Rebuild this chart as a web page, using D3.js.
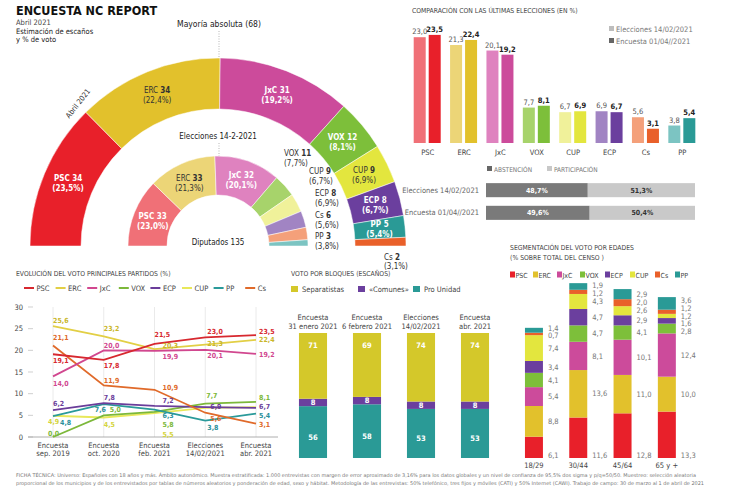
<!DOCTYPE html>
<html><head><meta charset="utf-8">
<script src="https://cdn.jsdelivr.net/npm/d3@7"></script>
<style>
body{margin:0;background:#fff}
svg{display:block;font-family:"Liberation Sans Narrow","DejaVu Sans Condensed","Roboto",sans-serif}
</style></head><body>
<svg id="c" width="742" height="491"></svg>
<script>
// ---------- DATA ----------
const abrParties = ["PSC","ERC","JxC","VOX","CUP","ECP","PP","Cs"];
const abrSeats   = [34,34,31,12,9,8,5,2];
const abrPct     = ["23,5","22,4","19,2","8,1","6,9","6,7","5,4","3,1"];
const elecParties = ["PSC","ERC","JxC","VOX","CUP","ECP","Cs","PP"];
const elecSeats   = [33,33,32,11,9,8,6,3];
const elecPct     = ["23,0","21,3","20,1","7,7","6,7","6,9","5,6","3,8"];

const cmpParties = ["PSC","ERC","JxC","VOX","CUP","ECP","Cs","PP"];
const cmpElecciones = [23.0,21.3,20.1,7.7,6.7,6.9,5.6,3.8];
const cmpEncuesta   = [23.5,22.4,19.2,8.1,6.9,6.7,3.1,5.4];

const turnoutRows = ["Elecciones 14/02/2021","Encuesta 01/04//2021"];
const abstencion = [48.7,49.6];
const participacion = [51.3,50.4];

const periods = [["Encuesta","sep. 2019"],["Encuesta","oct. 2020"],["Encuesta","feb. 2021"],["Elecciones","14/02/2021"],["Encuesta","abr. 2021"]];
const lineParties = ["PSC","ERC","JxC","VOX","ECP","CUP","PP","Cs"];
const evPSC = [19.1,17.8,21.5,23.0,23.5];
const evERC = [25.6,23.2,20.3,21.3,22.4];
const evJxC = [14.0,20.0,19.9,20.1,19.2];
const evVOX = [0.0,5.0,5.8,7.7,8.1];
const evECP = [6.2,7.8,7.2,6.9,6.7];
const evCUP = [4.9,4.5,5.5,6.7,6.9];
const evPP  = [4.8,7.6,6.3,3.8,5.4];
const evCs  = [21.1,11.9,10.9,5.6,3.1];
const yTicks = [0,5,10,15,20,25,30];

const blocCols = [["Encuesta","31 enero 2021"],["Encuesta","6 febrero 2021"],["Elecciones","14/02/2021"],["Encuesta","abr. 2021"]];
const blocSeparatistas = [71,69,74,74];
const blocComunes = [8,8,8,8];
const blocProUnidad = [56,58,53,53];

const ageGroups = ["18/29","30/44","45/64","65 y +"];
const ageParties = ["PSC","ERC","JxC","VOX","ECP","CUP","Cs","PP"];
const agePSC = [6.1,11.6,12.8,13.3];
const ageERC = [8.8,13.6,11.0,10.0];
const ageJxC = [5.4,8.1,10.1,12.4];
const ageVOX = [4.1,4.7,4.1,2.8];
const ageECP = [3.4,4.7,2.9,1.6];
const ageCUP = [7.4,4.3,2.6,1.2];
const ageCs  = [0.7,1.2,2.0,1.2];
const agePP  = [1.4,1.9,2.9,3.6];

// ---------- STYLE ----------
const dark = {PSC:"#e8202a",ERC:"#e2c12c",JxC:"#cc4b9b",VOX:"#7dbf3a",CUP:"#e3e63e",ECP:"#6b3f9e",PP:"#2a9a96",Cs:"#e9602a"};
const light= {PSC:"#f07077",ERC:"#ecd577",JxC:"#df82bf",VOX:"#a7d36b",CUP:"#f0f19a",ECP:"#a184c3",PP:"#7cc4c2",Cs:"#f4a07a"};
const lineCol = {PSC:"#d7282f",ERC:"#e2cf45",JxC:"#d1478f",VOX:"#7cb83a",ECP:"#6a3d9a",CUP:"#e8e85a",PP:"#2a9a9a",Cs:"#e06a2a"};
const lblCol  = {PSC:"#d7282f",ERC:"#c9b62a",JxC:"#d1478f",VOX:"#7cb83a",ECP:"#6a3d9a",CUP:"#d4d43a",PP:"#2a8f9a",Cs:"#e06a2a"};
const TXT = "#333";

const svg = d3.select("#c");

function mixed(g, x, y, parts, o){
  o = o||{};
  const t = g.append("text").attr("x",x).attr("y",y)
    .attr("text-anchor",o.anchor||"start").attr("font-size",o.size||8)
    .attr("fill",o.fill||TXT);
  parts.forEach(p=>t.append("tspan").text(p[0]).attr("font-weight",p[1]?"bold":"normal"));
  return t;
}
function txt(x,y,s,o){
  o=o||{};
  return svg.append("text").attr("x",x).attr("y",y).text(s)
    .attr("text-anchor",o.anchor||"start").attr("font-size",o.size||8)
    .attr("font-weight",o.bold?"bold":"normal").attr("fill",o.fill||TXT);
}

// ---------- HEADER ----------
txt(16,15,"ENCUESTA NC REPORT",{size:12.5,bold:true,fill:"#111"});
txt(16,25,"Abril 2021",{size:7.5,fill:"#444"});
txt(16,34,"Estimación de escaños",{size:7.5,fill:"#222"});
txt(16,42,"y % de voto",{size:7.5,fill:"#222"});

// ---------- HEMICYCLES ----------
const cx=218, cy=246;
const pie = d3.pie().sort(null).startAngle(-Math.PI/2).endAngle(Math.PI/2);
const gOut = svg.append("g").attr("transform",`translate(${cx},${cy})`);
const arcOut = d3.arc().innerRadius(137).outerRadius(188);
const pOut = pie(abrSeats);
gOut.selectAll("path").data(pOut).enter().append("path")
  .attr("d",arcOut).attr("fill",(d,i)=>dark[abrParties[i]]).attr("stroke","#fff").attr("stroke-width",0.5);
const arcIn = d3.arc().innerRadius(51).outerRadius(90);
const pIn = pie(elecSeats);
gOut.selectAll("path.in").data(pIn).enter().append("path").attr("class","in")
  .attr("d",arcIn).attr("fill",(d,i)=>light[elecParties[i]]).attr("stroke","#fff").attr("stroke-width",0.5);

// outer labels inside slices
const outStyle = {PSC:"w",ERC:"d",JxC:"w",VOX:"w",CUP:"d",ECP:"w",PP:"w"};
pOut.forEach((d,i)=>{
  const p = abrParties[i]; if(!outStyle[p]) return;
  const c = arcOut.centroid(d);
  const white = outStyle[p]==="w";
  const f = white?"#fff":TXT;
  mixed(gOut,c[0],c[1]-2,[[p+" ",white],[String(abrSeats[i]),true]],{anchor:"middle",fill:f,size:8});
  mixed(gOut,c[0],c[1]+8,[["("+abrPct[i]+"%)",white]],{anchor:"middle",fill:f,size:8});
});
// Cs outer label outside
{
  const i = abrParties.indexOf("Cs");
  mixed(svg,384,259.5,[["Cs ",false],[String(abrSeats[i]),true]],{size:8});
  mixed(svg,384,269,[["("+abrPct[i]+"%)",false]],{size:8});
}
// inner labels inside
["PSC","ERC","JxC"].forEach(p=>{
  const i = elecParties.indexOf(p);
  const c = arcIn.centroid(pIn[i]);
  const white = p!=="ERC";
  const f = white?"#fff":TXT;
  mixed(gOut,c[0],c[1]-1,[[p+" ",white],[String(elecSeats[i]),true]],{anchor:"middle",fill:f,size:8});
  mixed(gOut,c[0],c[1]+9,[["("+elecPct[i]+"%)",white]],{anchor:"middle",fill:f,size:8});
});
// inner labels outside
const innerOutside = {VOX:[284,156],CUP:[309,174],ECP:[315,196],Cs:[315,218],PP:[315,239]};
Object.keys(innerOutside).forEach(p=>{
  const i = elecParties.indexOf(p); const [x,y]=innerOutside[p];
  mixed(svg,x,y,[[p+" ",false],[String(elecSeats[i]),true]],{size:8});
  mixed(svg,x,y+10,[["("+elecPct[i]+"%)",false]],{size:8});
});
// annotations
txt(cx+1,27,"Mayoría absoluta (68)",{anchor:"middle",size:8.5,fill:"#222"});
svg.append("line").attr("x1",cx+1).attr("x2",cx+1).attr("y1",31).attr("y2",cy-188)
  .attr("stroke","#999").attr("stroke-width",0.7).attr("stroke-dasharray","1,1.5");
txt(cx,139,"Elecciones 14-2-2021",{anchor:"middle",size:8,fill:"#222"});
svg.append("line").attr("x1",cx+1).attr("x2",cx+1).attr("y1",143).attr("y2",cy-90)
  .attr("stroke","#999").attr("stroke-width",0.7).attr("stroke-dasharray","1,1.5");
txt(cx,245,"Diputados 135",{anchor:"middle",size:8,fill:"#222"});
svg.append("text").attr("transform","translate(80,105) rotate(-52)").attr("text-anchor","middle")
  .attr("font-size",7.5).attr("fill","#333").text("Abril 2021");

// ---------- COMPARISON BARS ----------
txt(412,13,"COMPARACIÓN CON LAS ÚLTIMAS ELECCIONES (EN %)",{size:6.8,fill:"#444"});
const cx0 = d3.scaleBand().domain(cmpParties).range([409,700]);
const cx1 = d3.scaleBand().domain(["e","n"]).range([4.7,31.7]).paddingInner(0.2);
const cy0 = d3.scaleLinear().domain([0,25]).range([143,28]);
const gC = svg.append("g");
cmpParties.forEach((p,i)=>{
  const x0 = cx0(p);
  [["e",cmpElecciones[i],light[p],false],["n",cmpEncuesta[i],dark[p],true]].forEach(([k,v,c,b])=>{
    gC.append("rect").attr("x",x0+cx1(k)).attr("y",cy0(v)).attr("width",cx1.bandwidth())
      .attr("height",cy0(0)-cy0(v)).attr("fill",c);
    gC.append("text").attr("x",x0+cx1(k)+cx1.bandwidth()/2).attr("y",cy0(v)-3)
      .attr("text-anchor","middle").attr("font-size",7.5).attr("font-weight",b?"bold":"normal")
      .attr("fill",b?"#222":"#555").text(d3.format(".1f")(v).replace(".",","));
  });
  gC.append("text").attr("x",x0+cx0.bandwidth()/2+0.5).attr("y",155).attr("text-anchor","middle")
    .attr("font-size",7.5).attr("fill","#444").text(p);
});
svg.append("rect").attr("x",609).attr("y",26).attr("width",5).attr("height",5).attr("fill","#bdbdbd");
txt(616,32,"Elecciones 14/02/2021",{size:7.5,fill:"#777"});
svg.append("rect").attr("x",609).attr("y",38).attr("width",5).attr("height",5).attr("fill","#666");
txt(616,44,"Encuesta 01/04//2021",{size:7.5,fill:"#777"});

// ---------- TURNOUT ----------
svg.append("rect").attr("x",487).attr("y",166).attr("width",5).attr("height",5).attr("fill","#666");
txt(494,171.5,"ABSTENCIÓN",{size:6.5,fill:"#777"});
svg.append("rect").attr("x",547).attr("y",166).attr("width",5).attr("height",5).attr("fill","#c8c8c8");
txt(554,171.5,"PARTICIPACIÓN",{size:6.5,fill:"#777"});
const tx = d3.scaleLinear().domain([0,100]).range([486,695]);
const ty = d3.scaleBand().domain(turnoutRows).range([182,221]).paddingInner(0.38).paddingOuter(0.05);
turnoutRows.forEach((r,i)=>{
  const y=ty(r), h=ty.bandwidth();
  svg.append("rect").attr("x",tx(0)).attr("y",y).attr("width",tx(abstencion[i])-tx(0)).attr("height",h).attr("fill","#7a7a7a");
  svg.append("rect").attr("x",tx(abstencion[i])).attr("y",y).attr("width",tx(100)-tx(abstencion[i])).attr("height",h).attr("fill","#c9c9c9");
  txt((tx(0)+tx(abstencion[i]))/2,y+h/2+2.5,d3.format(".1f")(abstencion[i]).replace(".",",")+"%",{anchor:"middle",size:7,bold:true,fill:"#fff"});
  txt((tx(abstencion[i])+tx(100))/2,y+h/2+2.5,d3.format(".1f")(participacion[i]).replace(".",",")+"%",{anchor:"middle",size:7,bold:true,fill:"#333"});
  txt(479,y+h/2+2.5,r,{anchor:"end",size:7.5,fill:"#666"});
});

// ---------- EVOLUTION LINES ----------
txt(16,276,"EVOLUCIÓN DEL VOTO PRINCIPALES PARTIDOS (%)",{size:6.8,fill:"#444"});
const evo = {PSC:evPSC,ERC:evERC,JxC:evJxC,VOX:evVOX,ECP:evECP,CUP:evCUP,PP:evPP,Cs:evCs};
lineParties.forEach((p,i)=>{
  const x = 24 + i*31.6;
  svg.append("line").attr("x1",x).attr("x2",x+10).attr("y1",288).attr("y2",288).attr("stroke",lineCol[p]).attr("stroke-width",2);
  txt(x+12.5,290.8,p,{size:7.5,fill:"#444"});
});
const lx = d3.scalePoint().domain(d3.range(periods.length)).range([53,256]);
const ly = d3.scaleLinear().domain([0,30]).range([437,307]);
const gL = svg.append("g");
periods.forEach((p,i)=>{
  gL.append("line").attr("x1",lx(i)).attr("x2",lx(i)).attr("y1",ly(30)).attr("y2",ly(0)).attr("stroke","#e4e4e4").attr("stroke-width",0.8);
  txt(lx(i),448,p[0],{anchor:"middle",size:7.5,fill:"#444"});
  txt(lx(i),456,p[1],{anchor:"middle",size:7.5,fill:"#444"});
});
yTicks.forEach(t=>{
  gL.append("line").attr("x1",28).attr("x2",33).attr("y1",ly(t)).attr("y2",ly(t)).attr("stroke","#bbb").attr("stroke-width",0.7);
  txt(23,ly(t)+2.5,String(t),{anchor:"end",size:7.5,fill:"#444"});
});
gL.append("line").attr("x1",28).attr("x2",278).attr("y1",ly(0)).attr("y2",ly(0)).attr("stroke","#999").attr("stroke-width",0.8);
const lineGen = d3.line().x((d,i)=>lx(i)).y(d=>ly(d));
["CUP","VOX","PP","ECP","Cs","JxC","ERC","PSC"].forEach(p=>{
  gL.append("path").attr("d",lineGen(evo[p])).attr("fill","none").attr("stroke",lineCol[p]).attr("stroke-width",1.8);
});
// label offsets [dx, dy] relative to the point (null = no label)
const evoLabelOffsets = {
  PSC:[[0,6],[0,6],[0,-9],[2,-6],[3,-4]],
  ERC:[[0,-6],[0,-8],[8,-4],[2,-1],[3,0]],
  JxC:[[0,7],[0,-5],[8,6],[2,6],[3,1]],
  VOX:[[-5,-4],[6,-6],[8,13],[1,-8],[3,-4]],
  ECP:[[0,-7],[0,-6],[8,-5],[5,-1],[3,-1]],
  CUP:[[-5,6],[0,7],[8,21],null,null],
  PP:[[7,6],[-9,5],[8,6],[2,7],[3,2]],
  Cs:[[0,-8],[0,-5],[8,-2],[5,6],[3,1]]
};
["Cs","CUP","PP","VOX","ECP","JxC","ERC","PSC"].forEach(p=>{
  evo[p].forEach((v,i)=>{
    const o = evoLabelOffsets[p][i]; if(!o) return;
    gL.append("text").attr("x",lx(i)+o[0]).attr("y",ly(v)+o[1]+2.5).attr("font-size",7)
      .attr("font-weight","bold").attr("fill",lblCol[p]).text(d3.format(".1f")(v).replace(".",","));
  });
});

// ---------- BLOCS ----------
txt(291,276,"VOTO POR BLOQUES (ESCAÑOS)",{size:6.8,fill:"#444"});
const blocColor = {sep:"#d4c82a",com:"#6b3f9e",pro:"#2a9a96"};
[["sep","Separatistas",291],["com","«Comunes»",358],["pro","Pro Unidad",413]].forEach(([k,l,x])=>{
  svg.append("rect").attr("x",x).attr("y",286).attr("width",7).attr("height",6).attr("fill",blocColor[k]);
  txt(x+11,292,l,{size:7.5,fill:"#444"});
});
const bx = d3.scaleBand().domain(d3.range(blocCols.length)).range([286,502]).paddingInner(0.48).paddingOuter(0.24);
const by = d3.scaleLinear().domain([0,135]).range([458,333]);
blocCols.forEach((c,i)=>{
  const x=bx(i), w=bx.bandwidth(), m=x+w/2;
  txt(m,320,c[0],{anchor:"middle",size:7.5,fill:"#444"});
  txt(m,329,c[1],{anchor:"middle",size:7.5,fill:"#444"});
  const p0=0,p1=blocProUnidad[i],p2=p1+blocComunes[i],p3=p2+blocSeparatistas[i];
  svg.append("rect").attr("x",x).attr("y",by(p1)).attr("width",w).attr("height",by(p0)-by(p1)).attr("fill",blocColor.pro);
  svg.append("rect").attr("x",x).attr("y",by(p2)).attr("width",w).attr("height",by(p1)-by(p2)).attr("fill",blocColor.com);
  svg.append("rect").attr("x",x).attr("y",by(p3)).attr("width",w).attr("height",by(p2)-by(p3)).attr("fill",blocColor.sep);
  txt(m,by(p3)+15,String(blocSeparatistas[i]),{anchor:"middle",size:7.5,bold:true,fill:"#fff"});
  txt(m,(by(p1)+by(p2))/2+2.6,String(blocComunes[i]),{anchor:"middle",size:7.5,bold:true,fill:"#fff"});
  txt(m,by(p1)+(by(0)-by(p1))*0.6+2.6,String(blocProUnidad[i]),{anchor:"middle",size:7.5,bold:true,fill:"#fff"});
});

// ---------- AGE SEGMENTATION ----------
txt(510,250,"SEGMENTACIÓN DEL VOTO POR EDADES",{size:6.8,fill:"#444"});
txt(510,260,"(% SOBRE TOTAL DEL CENSO )",{size:6.8,fill:"#444"});
const legX = [510,533,557,580,605,630,655,675];
ageParties.forEach((p,i)=>{
  svg.append("rect").attr("x",legX[i]).attr("y",271.5).attr("width",5).attr("height",6).attr("fill",dark[p]);
  txt(legX[i]+5.5,277.5,p,{size:7,fill:"#444"});
});
const ageVals = {PSC:agePSC,ERC:ageERC,JxC:ageJxC,VOX:ageVOX,ECP:ageECP,CUP:ageCUP,Cs:ageCs,PP:agePP};
const ax = d3.scaleBand().domain(ageGroups).range([511.8,689]).paddingInner(0.594).paddingOuter(0.297);
const ay = d3.scaleLinear().domain([0,50]).range([458,283.5]);
ageGroups.forEach((g,gi)=>{
  const x=ax(g), w=ax.bandwidth();
  let acc=0; const labs=[];
  ageParties.forEach(p=>{
    const v=ageVals[p][gi];
    svg.append("rect").attr("x",x).attr("y",ay(acc+v)).attr("width",w).attr("height",ay(acc)-ay(acc+v)).attr("fill",dark[p]);
    labs.push({v, y:(ay(acc)+ay(acc+v))/2, p});
    acc+=v;
  });
  labs[0].y = ay(0)-3;
  // resolve overlaps (top to bottom)
  const order = labs.slice(1).reverse();
  for(let it=0;it<40;it++){
    for(let k=1;k<order.length;k++){
      const gap = order[k].y-order[k-1].y;
      if(gap<7.6){ const d=(7.6-gap)/2; order[k].y+=d; order[k-1].y-=d; }
    }
  }
  labs.forEach(l=>txt(x+w+5,l.y+2.6,d3.format(".1f")(l.v).replace(".",","),{size:7.5,fill:"#777"}));
  txt(x+w/2,468,g,{anchor:"middle",size:7.5,fill:"#444"});
});

// ---------- FOOTNOTE ----------
svg.append("text").attr("x",16).attr("y",477).attr("font-size",5).attr("fill","#777")
  .attr("textLength",680).attr("lengthAdjust","spacingAndGlyphs")
  .text("FICHA TÉCNICA: Universo: Españoles con 18 años y más. Ámbito autonómico. Muestra estratificada: 1.000 entrevistas con margen de error aproximado de 3,16% para los datos globales y un nivel de confianza de 95,5% dos sigma y p/q=50/50. Muestreo: selección aleatoria");
svg.append("text").attr("x",16).attr("y",485).attr("font-size",5).attr("fill","#777")
  .attr("textLength",688).attr("lengthAdjust","spacingAndGlyphs")
  .text("proporcional de los municipios y de los entrevistados por tablas de números aleatorios y ponderación de edad, sexo y hábitat. Metodología de las entrevistas: 50% telefónico, tres fijos y móviles (CATI) y 50% Internet (CAWI). Trabajo de campo: 30 de marzo al 1 de abril de 2021");
</script>
</body></html>
